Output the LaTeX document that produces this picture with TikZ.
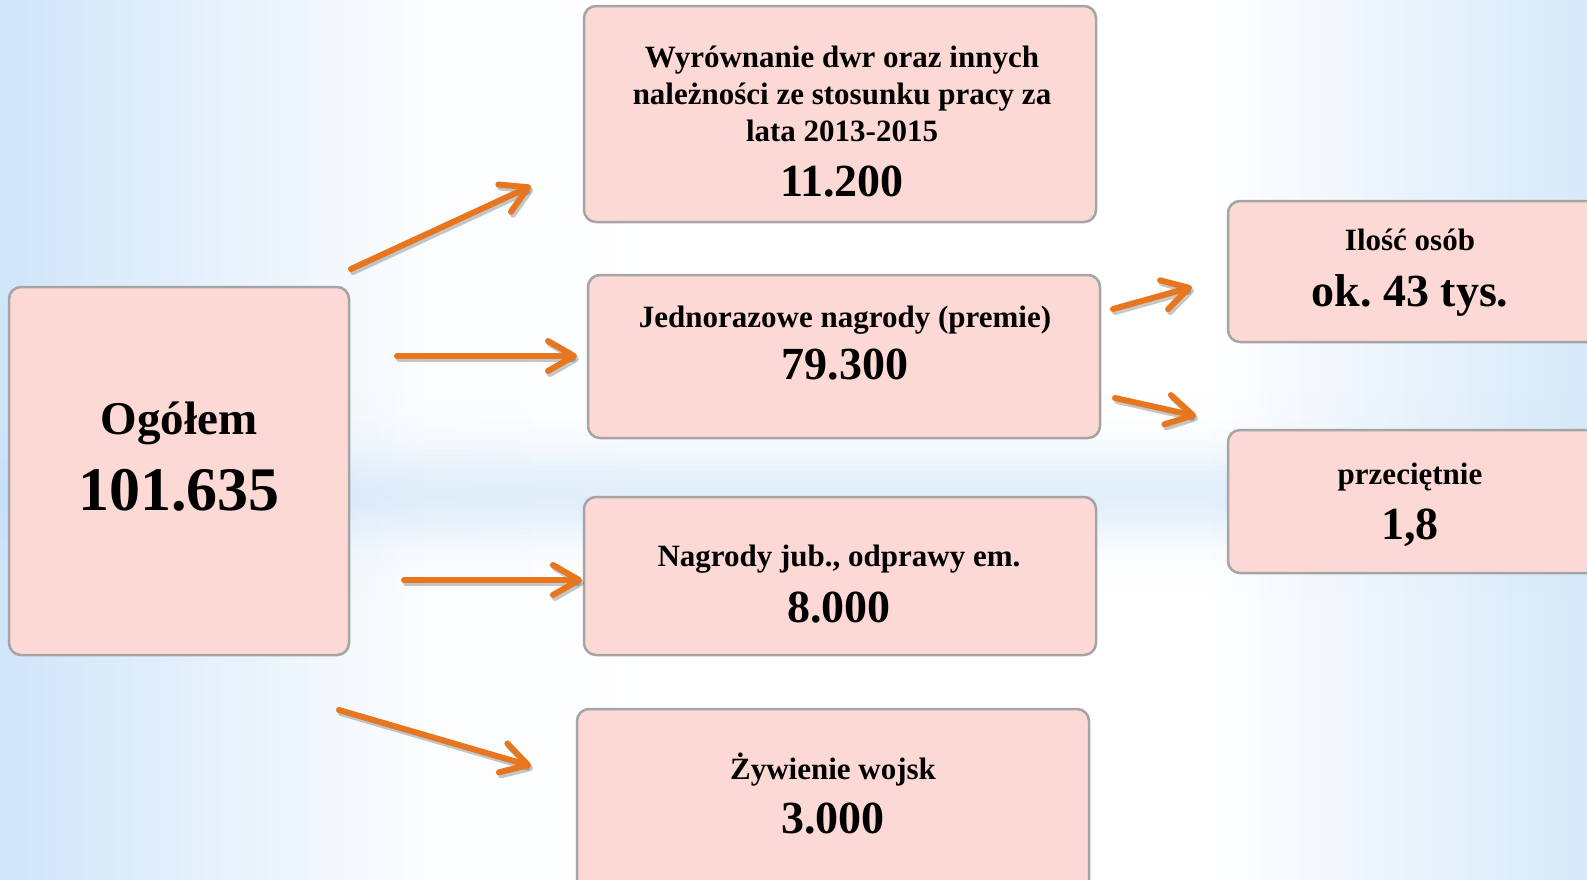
\documentclass[tikz,border=0pt]{standalone}
\usepackage{fontspec}
\setmainfont{Liberation Serif}
\frenchspacing
\usetikzlibrary{arrows.meta}
\definecolor{boxfill}{HTML}{FCD9D4}
\definecolor{boxline}{HTML}{A5A5A5}
\definecolor{arrowc}{HTML}{E8761E}
\definecolor{bgblue}{HTML}{D0E5F9}
\definecolor{bandblue}{HTML}{BCD9F4}
\pgfdeclarehorizontalshading{bgshade}{100bp}{color(0bp)=(bgblue); color(25bp)=(bgblue); color(38bp)=(white!90!bgblue); color(46bp)=(white); color(63bp)=(white); color(75bp)=(bgblue!85); color(100bp)=(bgblue!85)}
\tikzset{
  box/.style={draw=boxline, line width=2.5pt, fill=boxfill, rounded corners=12pt, inner sep=0pt},
  smalltxt/.style={font=\fontsize{31}{37}\selectfont\bfseries, anchor=base, inner sep=0pt},
  bigtxt/.style={font=\fontsize{46}{52}\selectfont\bfseries, anchor=base, inner sep=0pt},
  arr/.style={line width=6pt, line cap=round, draw=arrowc, -{Straight Barb[length=26pt, width=30pt, round]}},
  arrshadow/.style={line width=6pt, line cap=round, draw=black, opacity=0.22, -{Straight Barb[length=26pt, width=30pt, round]}, transform canvas={shift={(2pt,-3pt)}}}
}
\begin{document}
\begin{tikzpicture}[x=1pt,y=-1pt]
\useasboundingbox (0,0) rectangle (1587,879);
% background
\shade[shading=bgshade] (0,0) rectangle (1587,879);
\foreach \k in {0,...,39} {
  \pgfmathsetmacro{\yy}{395+\k*5}
  \pgfmathsetmacro{\op}{0.42*exp(-((\yy+2.5-495)/45)^2)}
  \fill[bandblue, opacity=\op] (0,\yy) rectangle (1587,\yy+5.3);
}

% boxes
\node[box, minimum width=340pt, minimum height=368pt] (ogol) at (179,471) {};
\node[box, minimum width=512pt, minimum height=216pt] (b1) at (840,114) {};
\node[box, minimum width=512pt, minimum height=163pt] (b2) at (844,356.5) {};
\node[box, minimum width=512pt, minimum height=158pt] (b3) at (840,576) {};
\node[box, minimum width=512pt, minimum height=191pt] (b4) at (833,804.5) {};
\node[box, minimum width=372pt, minimum height=141pt] (r1) at (1414,271.5) {};
\node[box, minimum width=372pt, minimum height=143pt] (r2) at (1414,501.5) {};

% texts
\node[anchor=base, inner sep=0pt, font=\fontsize{47}{52}\selectfont\bfseries] (ogolt) at (179,434) {Ogółem};
\node[anchor=base, inner sep=0pt, font=\fontsize{62}{70}\selectfont\bfseries] (ogoln) at (179,510.5) {101.635};

\node[smalltxt] (b1a) at (842,67.5) {Wyrównanie dwr oraz innych};
\node[smalltxt] (b1b) at (842,104.5) {należności ze stosunku pracy za};
\node[smalltxt] (b1c) at (842,141.5) {lata 2013-2015};
\node[bigtxt] (b1n) at (842,196.5) {11.200};

\node[smalltxt] (b2a) at (845,327) {Jednorazowe nagrody (premie)};
\node[bigtxt] (b2n) at (845,379) {79.300};

\node[smalltxt] (b3a) at (839,566) {Nagrody jub., odprawy em.};
\node[bigtxt] (b3n) at (839,622) {8.000};

\node[smalltxt] (b4a) at (833,779) {Żywienie wojsk};
\node[bigtxt] (b4n) at (833,833) {3.000};

\node[smalltxt] (r1a) at (1410,250) {Ilość osób};
\node[bigtxt] (r1n) at (1410,306.5) {ok. 43 tys.};

\node[smalltxt] (r2a) at (1410,484) {przeciętnie};
\node[bigtxt] (r2n) at (1410,539) {1,8};

% arrow end points
\coordinate (a1s) at (351,269);  \coordinate (a1e) at (531,186);
\coordinate (a2s) at (397,356);  \coordinate (a2e) at (577,356);
\coordinate (a3s) at (404,580);  \coordinate (a3e) at (582,580);
\coordinate (a4s) at (339,710);  \coordinate (a4e) at (531,766);
\coordinate (a5s) at (1113,309); \coordinate (a5e) at (1192,287);
\coordinate (a6s) at (1115,398); \coordinate (a6e) at (1196,416);

\foreach \i in {1,...,6} {
  \draw[arrshadow] (a\i s) -- (a\i e);
  \draw[arr] (a\i s) -- (a\i e);
}
\end{tikzpicture}
\end{document}
